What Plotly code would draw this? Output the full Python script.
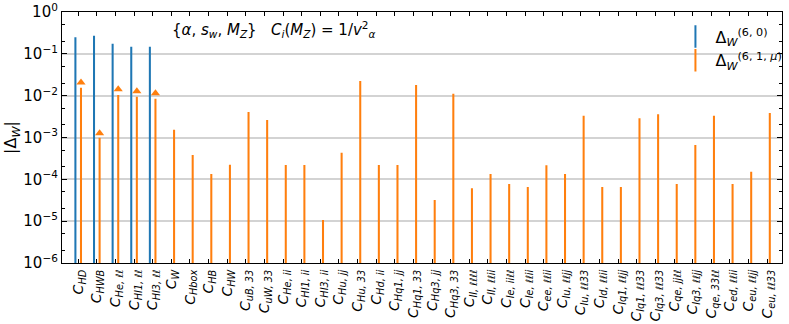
import plotly.graph_objects as go

labels_raw = [
    ("C", "HD"), ("C", "HWB"), ("C", "He, ℓℓ"), ("C", "Hl1, ℓℓ"), ("C", "Hl3, ℓℓ"),
    ("C", "W"), ("C", "Hbox"), ("C", "HB"), ("C", "HW"), ("C", "uB, 33"),
    ("C", "uW, 33"), ("C", "He, ii"), ("C", "Hl1, ii"), ("C", "Hl3, ii"), ("C", "Hu, jj"),
    ("C", "Hu, 33"), ("C", "Hd, ii"), ("C", "Hq1, jj"), ("C", "Hq1, 33"), ("C", "Hq3, jj"),
    ("C", "Hq3, 33"), ("C", "ll, ℓℓℓℓ"), ("C", "ll, ℓℓii"), ("C", "le, iiℓℓ"), ("C", "le, ℓℓii"),
    ("C", "ee, ℓℓii"), ("C", "lu, ℓℓjj"), ("C", "lu, ℓℓ33"), ("C", "ld, ℓℓii"), ("C", "lq1, ℓℓjj"),
    ("C", "lq1, ℓℓ33"), ("C", "lq3, ℓℓ33"), ("C", "qe, jjℓℓ"), ("C", "lq3, ℓℓjj"), ("C", "qe, 33ℓℓ"),
    ("C", "ed, ℓℓii"), ("C", "eu, ℓℓjj"), ("C", "eu, ℓℓ33"),
]
tick_labels = [f"<i>{a}</i><sub><i>{b}</i></sub>" for a, b in labels_raw]

# Delta_W^(6,0): only first five operators
delta_60 = [0.248, 0.27, 0.175, 0.148, 0.148]

# Delta_W^(6,1,mu)
delta_61 = [
    0.0155, 0.00099, 0.0104, 0.00946, 0.00847,
    0.00154, 3.8e-4, 1.34e-4, 2.24e-4, 4.07e-3,
    2.62e-3, 2.2e-4, 2.2e-4, 1.07e-5, 4.33e-4,
    0.0224, 2.2e-4, 2.2e-4, 0.018, 3.2e-5,
    0.0111, 6.1e-5, 1.34e-4, 7.7e-5, 6.55e-5,
    2.16e-4, 1.34e-4, 3.32e-3, 6.55e-5, 6.55e-5,
    2.87e-3, 3.58e-3, 7.7e-5, 6.6e-4, 3.32e-3,
    7.7e-5, 1.52e-4, 3.85e-3,
]

# triangle markers (upper values) for the first five
tri_vals = [0.0205, 0.00126, 0.0142, 0.0127, 0.0114]

ytick_vals = [1e-6, 1e-5, 1e-4, 1e-3, 1e-2, 1e-1, 1]
ytick_text = ["10<sup>−6</sup>", "10<sup>−5</sup>", "10<sup>−4</sup>", "10<sup>−3</sup>",
              "10<sup>−2</sup>", "10<sup>−1</sup>", "10<sup>0</sup>"]

BLUE = "#1f77b4"
ORANGE = "#ff7f0e"

idx = list(range(len(delta_61)))

fig = go.Figure()
fig.add_trace(go.Bar(x=idx[:len(delta_60)], y=delta_60, offset=-0.21, width=0.11,
                     marker=dict(color=BLUE, line=dict(width=0)), showlegend=False))
fig.add_trace(go.Bar(x=idx, y=delta_61, offset=0.09, width=0.11,
                     marker=dict(color=ORANGE, line=dict(width=0)), showlegend=False))
fig.add_trace(go.Scatter(x=[i + 0.145 for i in idx[:len(tri_vals)]], y=tri_vals, mode="markers",
                         marker=dict(symbol="triangle-up", size=8, color=ORANGE),
                         showlegend=False))
# legend entries
fig.add_trace(go.Scatter(x=[None], y=[None], mode="markers",
                         marker=dict(symbol="line-ns-open", size=16, color=BLUE,
                                     line=dict(color=BLUE, width=2)),
                         name="Δ<sub><i>W</i></sub><sup>(6, 0)</sup>"))
fig.add_trace(go.Scatter(x=[None], y=[None], mode="markers",
                         marker=dict(symbol="line-ns-open", size=16, color=ORANGE,
                                     line=dict(color=ORANGE, width=2)),
                         name="Δ<sub><i>W</i></sub><sup>(6, 1, <i>μ</i>)</sup>"))

fig.update_layout(
    width=789, height=324,
    margin=dict(l=62, r=7, t=12, b=61, autoexpand=False),
    plot_bgcolor="white", paper_bgcolor="white",
    barmode="overlay",
    font=dict(family="DejaVu Sans", size=13, color="black"),
    showlegend=True,
    legend=dict(x=0.852, y=0.97, xanchor="left", yanchor="top",
                bgcolor="rgba(255,255,255,0)", font=dict(size=16),
                itemwidth=30, tracegroupgap=0),
    annotations=[dict(text="{<i>α</i>, <i>s<sub>w</sub></i>, <i>M<sub>Z</sub></i>}   <i>C<sub>i</sub></i>(<i>M<sub>Z</sub></i>) = 1/<i>v</i><sup>2</sup><sub><i>α</i></sub>",
                      xref="paper", yref="paper", x=0.15, y=0.93, xanchor="left", yanchor="middle",
                      showarrow=False, font=dict(size=15))],
)
fig.update_xaxes(
    range=[-0.875, 37.8], tickmode="array", tickvals=idx, ticktext=tick_labels,
    tickangle=-90, ticks="inside", ticklen=4, tickcolor="black",
    showline=True, linecolor="black", linewidth=1.2, mirror="allticks",
    showgrid=False, zeroline=False, tickfont=dict(size=14), automargin=False,
)
fig.update_yaxes(
    type="log", range=[-6, 0], tickmode="array", tickvals=ytick_vals, ticktext=ytick_text,
    ticks="inside", ticklen=5, tickcolor="black",
    showline=True, linecolor="black", linewidth=1.2, mirror="allticks",
    showgrid=True, gridcolor="#d3d3d3", gridwidth=1.5,
    minor=dict(ticks="inside", ticklen=2.5, tickcolor="black", showgrid=False),
    title=dict(text="|Δ<sub><i>W</i></sub>|", font=dict(size=16), standoff=2),
    tickfont=dict(size=15), automargin=False,
)

fig.write_html("out.html", config={"displayModeBar": False},
               post_script="document.body.style.margin='0';document.body.style.overflow='hidden';")
